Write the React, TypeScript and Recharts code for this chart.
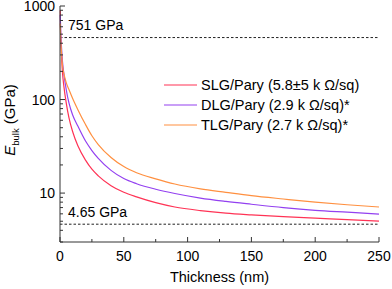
import { LineChart, Line, XAxis, YAxis, ReferenceLine } from 'recharts';

const thickness = [0.2, 0.5, 1, 2, 3, 5, 7, 10, 14, 20, 25, 30, 40, 50, 60, 75, 90, 110, 130, 150, 175, 200, 225, 250];
const slg = [900, 500, 330, 190, 140, 90, 64, 45, 32, 22.5, 18, 15.3, 12.0, 10.2, 9.1, 7.9, 7.1, 6.5, 6.1, 5.85, 5.6, 5.4, 5.2, 5.02];
const dlg = [800, 550, 400, 250, 190, 125, 92, 68, 52, 36, 28.5, 23.5, 17.5, 14.3, 12.6, 11.0, 9.9, 8.85, 8.15, 7.6, 7.0, 6.55, 6.25, 5.97];
const tlg = [650, 480, 350, 230, 190, 150, 128, 102, 78, 54, 41, 33, 24, 19.2, 16.5, 14.2, 12.5, 11.1, 10.2, 9.4, 8.65, 8.0, 7.5, 7.1];

const xTicks = [0, 25, 50, 75, 100, 125, 150, 175, 200, 225, 250];
const yTicks = [3, 4, 5, 6, 7, 8, 9, 10, 20, 30, 40, 50, 60, 70, 80, 90, 100, 200, 300, 400, 500, 600, 700, 800, 900, 1000];
const yLabels = [10, 100, 1000];
const refTop = 460; // drawn position of the "751 GPa" line
const refBottom = 4.65;

const series = [
  { key: 'slg', name: 'SLG/Pary (5.8±5 k Ω/sq)', color: '#ff3355' },
  { key: 'dlg', name: 'DLG/Pary (2.9 k Ω/sq)*', color: '#9340f0' },
  { key: 'tlg', name: 'TLG/Pary (2.7 k Ω/sq)*', color: '#ff9040' },
];

const data = thickness.map((t, i) => ({ t, slg: slg[i], dlg: dlg[i], tlg: tlg[i] }));

const FONT = '"Liberation Sans", Arial, sans-serif';

const BottomTick = (props: any) => {
  const { x, y, payload } = props;
  const major = payload.value % 50 === 0;
  return (
    <g>
      <line x1={x} x2={x} y1={y} y2={y - (major ? 5 : 3)} stroke="#333" />
      {major && (
        <text x={x} y={y + 19} textAnchor="middle" fontSize={14} fontFamily={FONT} fill="#000">
          {payload.value}
        </text>
      )}
    </g>
  );
};

const TopTick = (props: any) => {
  const { x, y, payload } = props;
  const major = payload.value % 50 === 0;
  return <line x1={x} x2={x} y1={y} y2={y + (major ? 5 : 3)} stroke="#333" />;
};

const LeftTick = (props: any) => {
  const { x, y, payload } = props;
  const major = yLabels.includes(payload.value);
  return (
    <g>
      <line x1={x} x2={x + (major ? 5 : 3)} y1={y} y2={y} stroke="#333" />
      {major && (
        <text x={x - 5} y={y + 5} textAnchor="end" fontSize={14} fontFamily={FONT} fill="#000">
          {payload.value}
        </text>
      )}
    </g>
  );
};

const RightTick = (props: any) => {
  const { x, y, payload } = props;
  const major = yLabels.includes(payload.value);
  return <line x1={x} x2={x - (major ? 5 : 3)} y1={y} y2={y} stroke="#333" />;
};

const LegendBox = () => (
  <div style={{ position: 'absolute', left: 163, top: 75, fontFamily: FONT, fontSize: 14.5, color: '#000' }}>
    {series.map((s) => (
      <div key={s.key} style={{ display: 'flex', alignItems: 'center', height: 20, whiteSpace: 'nowrap' }}>
        <svg width={38} height={20}>
          <line x1={1} x2={34} y1={10} y2={10} stroke={s.color} strokeWidth={1.2} />
        </svg>
        <span>{s.name}</span>
      </div>
    ))}
  </div>
);

const App = () => {
  return (
    <div style={{ position: 'absolute', left: 0, top: 0, width: 392, height: 289, background: '#fff' }}>
      <LineChart width={392} height={289} data={data} margin={{ top: 6, right: 13, left: 0, bottom: 0 }}>
        <XAxis
          dataKey="t"
          type="number"
          domain={[0, 250]}
          ticks={xTicks}
          interval={0}
          tickSize={0}
          tickMargin={0}
          height={47}
          stroke="#333"
          tick={<BottomTick />}
          label={{
            content: () => (
              <text x={219.5} y={282} textAnchor="middle" fontSize={14.5} fontFamily={FONT} fill="#000">
                Thickness (nm)
              </text>
            ),
          }}
        />
        <XAxis
          xAxisId="top"
          orientation="top"
          dataKey="t"
          type="number"
          domain={[0, 250]}
          ticks={xTicks}
          interval={0}
          tickSize={0}
          tickMargin={0}
          height={0}
          stroke="#333"
          tick={<TopTick />}
        />
        <YAxis
          scale="log"
          type="number"
          domain={[3, 1000]}
          allowDataOverflow
          ticks={yTicks}
          interval={0}
          tickSize={0}
          tickMargin={0}
          width={60}
          stroke="#333"
          tick={<LeftTick />}
          label={{
            content: () => (
              <text
                transform="translate(15,120) rotate(-90)"
                textAnchor="middle"
                fontSize={15}
                fontFamily={FONT}
                fill="#000"
              >
                <tspan fontStyle="italic">E</tspan>
                <tspan fontSize={9.5} dy={4}>bulk</tspan>
                <tspan dy={-4}> (GPa)</tspan>
              </text>
            ),
          }}
        />
        <YAxis
          yAxisId="right"
          orientation="right"
          scale="log"
          type="number"
          domain={[3, 1000]}
          allowDataOverflow
          ticks={yTicks}
          interval={0}
          tickSize={0}
          tickMargin={0}
          width={0}
          stroke="#333"
          tick={<RightTick />}
        />
        <ReferenceLine
          y={refTop}
          stroke="#222"
          strokeDasharray="2.5 2"
          label={{
            content: (p: any) => (
              <text x={p.viewBox.x + 8} y={p.viewBox.y - 8} fontSize={14} fontFamily={FONT} fill="#000">
                751 GPa
              </text>
            ),
          }}
        />
        <ReferenceLine
          y={refBottom}
          stroke="#222"
          strokeDasharray="2.5 2"
          label={{
            content: (p: any) => (
              <text x={p.viewBox.x + 8} y={p.viewBox.y - 7} fontSize={14} fontFamily={FONT} fill="#000">
                4.65 GPa
              </text>
            ),
          }}
        />
        {series.map((s) => (
          <Line
            key={s.key}
            dataKey={s.key}
            name={s.name}
            type="monotone"
            stroke={s.color}
            strokeWidth={1.2}
            dot={false}
            isAnimationActive={false}
          />
        ))}
      </LineChart>
      <LegendBox />
    </div>
  );
};

export default App;
